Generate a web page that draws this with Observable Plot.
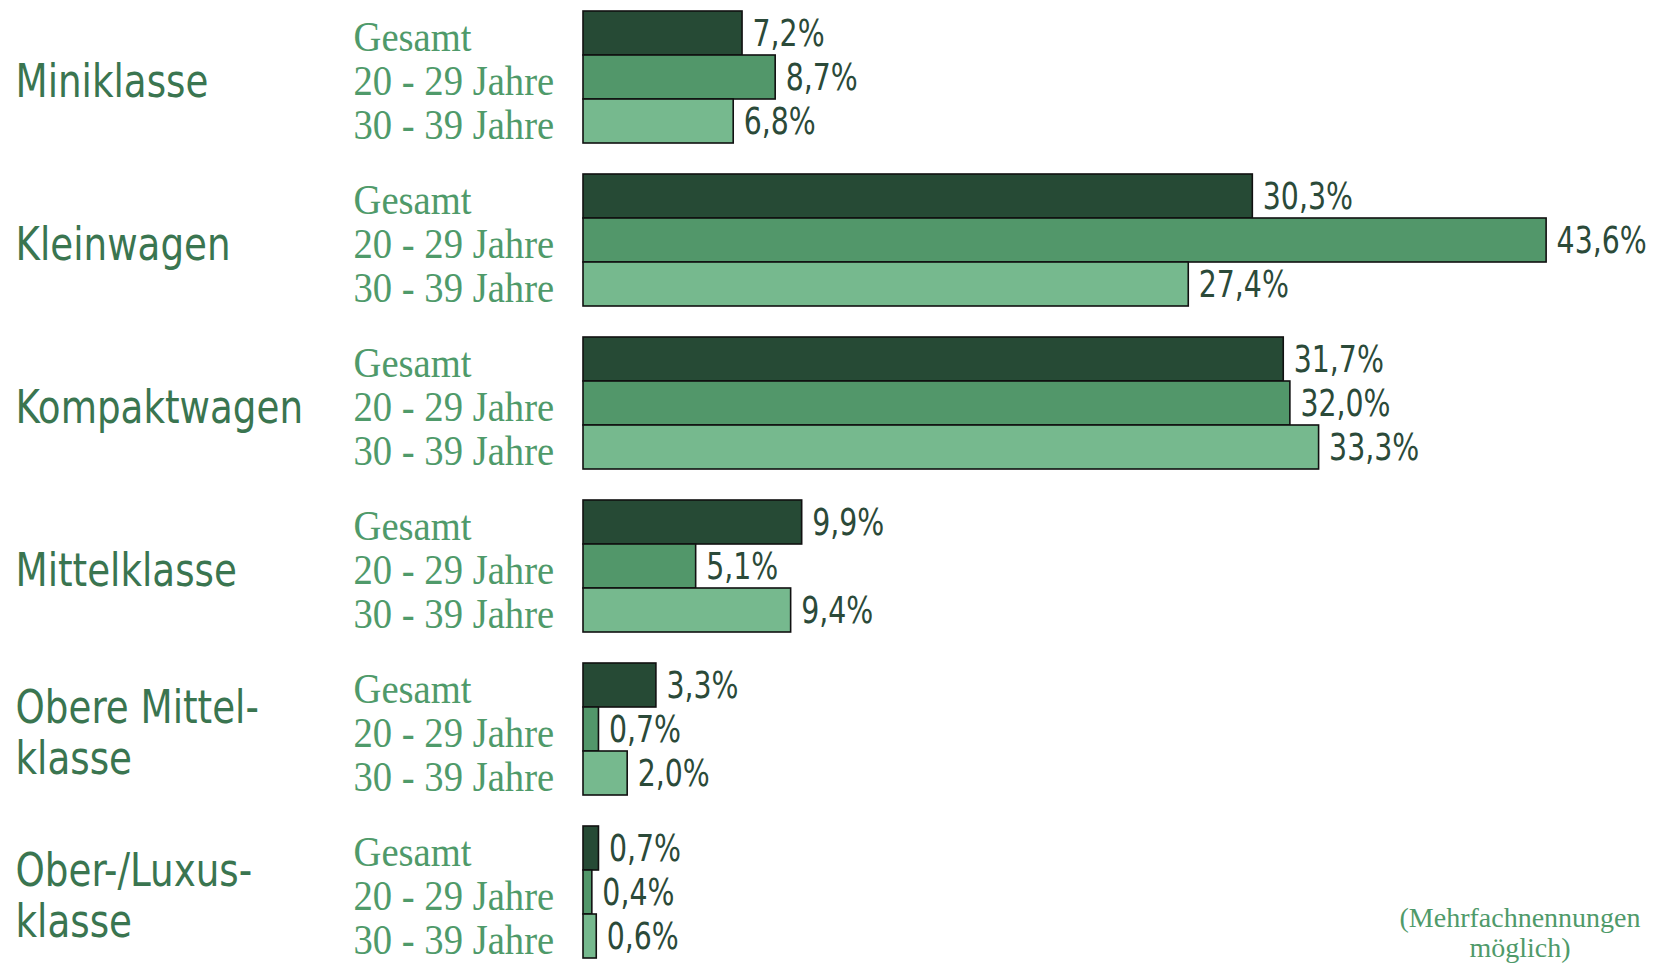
<!DOCTYPE html>
<html>
<head>
<meta charset="utf-8">
<script src="https://cdn.jsdelivr.net/npm/d3@7"></script>
<script src="https://cdn.jsdelivr.net/npm/@observablehq/plot@0.6"></script>
<style>
  html, body { margin: 0; padding: 0; background: #fff; overflow: hidden; }
  #wrap { position: relative; width: 1659px; height: 963px; }
  #note { position: absolute; left: 1370px; width: 300px; top: 903px; text-align: center;
          font-family: "Liberation Serif", "DejaVu Serif", serif; font-size: 28px; line-height: 30px; color: #4f9a6a; }
</style>
</head>
<body>
<div id="wrap"><div id="chart"></div><div id="note">(Mehrfachnennungen<br>möglich)</div></div>
<script>
const categories = ["Miniklasse", "Kleinwagen", "Kompaktwagen", "Mittelklasse", "Obere Mittel-\nklasse", "Ober-/Luxus-\nklasse"];
const series = ["Gesamt", "20 - 29 Jahre", "30 - 39 Jahre"];
const gesamt = [7.2, 30.3, 31.7, 9.9, 3.3, 0.7];
const jahre20 = [8.7, 43.6, 32.0, 5.1, 0.7, 0.4];
const jahre30 = [6.8, 27.4, 33.3, 9.4, 2.0, 0.6];
const colors = ["#264a35", "#52976a", "#76b98e"];

const seriesValues = [gesamt, jahre20, jahre30];
const data = [];
categories.forEach((c, i) => series.forEach((s, j) => data.push({category: c, series: s, value: seriesValues[j][i]})));

const sansNarrow = '"Liberation Sans Narrow", "DejaVu Sans Condensed", "Roboto", sans-serif';
const serif = '"Liberation Serif", "DejaVu Serif", serif';
const fmt = v => v.toFixed(1).replace(".", ",") + "%";

const chart = Plot.plot({
  width: 1659,
  height: 963,
  marginLeft: 583,
  marginRight: 0,
  marginTop: 8,
  marginBottom: 1,
  style: {background: "#fff", overflow: "visible"},
  x: {domain: [0, 48.71], axis: null},
  y: {domain: series, paddingInner: 0, paddingOuter: 0},
  fy: {domain: categories, paddingInner: 0.175, paddingOuter: 0, label: null},
  color: {domain: series, range: colors},
  marks: [
    Plot.barX(data, {x: "value", y: "series", fy: "category", fill: "series", stroke: "#111", strokeWidth: 1.6}),
    Plot.text(data, {x: "value", y: "series", fy: "category", text: d => fmt(d.value), textAnchor: "start", dx: 10, dy: 0,
      fill: "#2b4a39", fontSize: 38, fontFamily: sansNarrow}),
    Plot.axisY({anchor: "left", tickSize: 0, tickPadding: 230, textAnchor: "start", dy: 4, label: null,
      fill: "#4f9a6a", fontSize: 42, fontFamily: serif}),
    Plot.axisFy({anchor: "left", tickSize: 0, tickPadding: 568, textAnchor: "start", label: null, lineHeight: 1.1, dy: 3,
      fill: "#3a7550", fontSize: 46, fontFamily: sansNarrow})
  ]
});
document.getElementById("chart").appendChild(chart);

// horizontally condense text to mimic the narrow typefaces of the original
function squeeze(selector, factor) {
  chart.querySelectorAll(selector).forEach(t => {
    const tsp = t.querySelectorAll("tspan");
    const els = tsp.length ? Array.from(tsp) : [t];
    els.forEach(e => {
      const w = e.getComputedTextLength();
      if (w > 0) {
        e.setAttribute("textLength", (w * factor).toFixed(1));
        e.setAttribute("lengthAdjust", "spacingAndGlyphs");
      }
    });
  });
}
squeeze('g[aria-label="text"] text', 0.83);
squeeze('g[aria-label="y-axis tick label"] text', 0.92);
squeeze('g[aria-label="fy-axis tick label"] text', 0.9);
</script>
</body>
</html>
